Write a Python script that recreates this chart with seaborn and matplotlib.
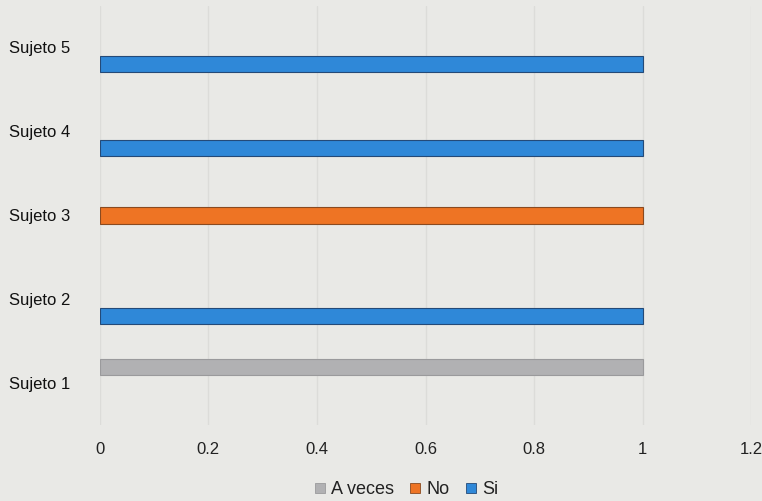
import matplotlib
matplotlib.use("Agg")
import matplotlib.pyplot as plt
from matplotlib.lines import Line2D
import seaborn as sns
import pandas as pd

# Respuestas por sujeto (1 = respuesta elegida)
sujetos = ["Sujeto 1", "Sujeto 2", "Sujeto 3", "Sujeto 4", "Sujeto 5"]
series = ["A veces", "No", "Si"]
a_veces = [1, 0, 0, 0, 0]
no = [0, 0, 1, 0, 0]
si = [0, 1, 0, 1, 1]
x_ticks = [0, 0.2, 0.4, 0.6, 0.8, 1, 1.2]
x_tick_labels = ["0", "0.2", "0.4", "0.6", "0.8", "1", "1.2"]

colores = {"A veces": "#b1b1b3", "No": "#ee7424", "Si": "#2f88d8"}
bordes = {"A veces": "#9a9a9c", "No": "#8a4a20", "Si": "#244a78"}

df = pd.DataFrame({
    "sujeto": sujetos * 3,
    "serie": ["A veces"] * 5 + ["No"] * 5 + ["Si"] * 5,
    "valor": a_veces + no + si,
})

sns.set_theme(style="white")
plt.rcParams["font.family"] = ["Liberation Sans", "DejaVu Sans"]

fondo = "#e9e9e6"
fig = plt.figure(figsize=(7.62, 5.01), dpi=100, facecolor=fondo)
ax = fig.add_axes([0.131, 0.151, 0.855, 0.838])
ax.set_facecolor(fondo)

sns.barplot(
    data=df, x="valor", y="sujeto", hue="serie",
    order=sujetos[::-1], hue_order=series, palette=colores,
    orient="h", width=0.59, errorbar=None, legend=False,
    saturation=1, linewidth=0, ax=ax,
)

# Thin outline only on the visible bars
for bar, serie in zip(ax.patches, [s for s in series for _ in sujetos]):
    if bar.get_width() > 0:
        bar.set_edgecolor(bordes[serie])
        bar.set_linewidth(0.8)

ax.set_xlim(0, 1.2)
ax.set_ylim(4.5, -0.5)
ax.set_xticks(x_ticks)
ax.set_xticklabels(x_tick_labels)
ax.set_xlabel("")
ax.set_ylabel("")
ax.tick_params(axis="x", length=0, pad=12, labelsize=12, colors="#222222")
ax.tick_params(axis="y", length=0, pad=21, labelsize=12, colors="#111111")
ax.grid(axis="x", color="#dcdcd9", linewidth=1)
ax.set_axisbelow(True)
for s in ax.spines.values():
    s.set_visible(False)

handles = [
    Line2D([0], [0], marker="s", linestyle="", markersize=7,
           markerfacecolor=colores[s], markeredgecolor=bordes[s], markeredgewidth=0.6)
    for s in series
]
fig.legend(handles, series, loc="center", bbox_to_anchor=(0.533, 0.022),
           ncol=3, frameon=False, fontsize=13, handletextpad=0.3,
           columnspacing=0.9, handlelength=0.6, labelcolor="#222222")

fig.savefig("out.png", dpi=100, facecolor=fondo)
